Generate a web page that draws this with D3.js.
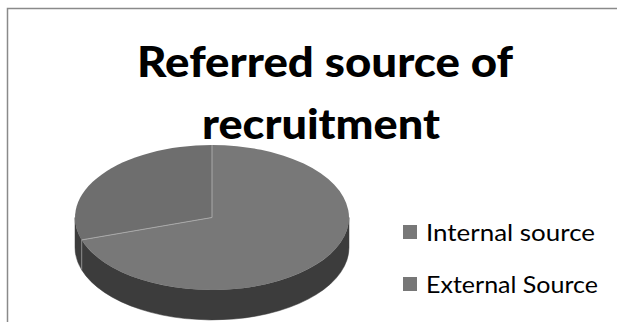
<!DOCTYPE html>
<html>
<head>
<meta charset="utf-8">
<script src="https://cdn.jsdelivr.net/npm/d3@7"></script>
<style>
html,body{margin:0;padding:0;background:#fff;}
svg{display:block;}
</style>
</head>
<body>
<svg id="chart" width="617" height="322"></svg>
<script>
const titleLines = ["Referred source of", "recruitment"];
const categories = ["Internal source", "External Source"];
const values = [70, 30];
const topColors = ["#787878", "#6e6e6e"];
const legendColors = ["#787878", "#777777"];

const svg = d3.select("#chart");
const W = 617, H = 322;

// border
svg.append("path")
  .attr("d", `M7.5,${H} V8.5 H${W}`)
  .attr("fill", "none").attr("stroke", "#8a8a8a").attr("stroke-width", 1.5);

// pie geometry
const cx = 212, cy = 217.5, rx = 137, ry = 72.5, depth = 30;
const pie = d3.pie().sort(null).value(d => d)(values);
const pt = (a, dy = 0) => [cx + rx * Math.sin(a), cy - ry * Math.cos(a) + dy];

const g = svg.append("g");

// side faces (front half only)
pie.forEach((s, i) => {
  const a0 = Math.max(s.startAngle, Math.PI / 2);
  const a1 = Math.min(s.endAngle, 3 * Math.PI / 2);
  if (a1 <= a0) return;
  const p0 = pt(a0), p1 = pt(a1), q1 = pt(a1, depth), q0 = pt(a0, depth);
  const large = (a1 - a0) > Math.PI ? 1 : 0;
  const d = `M${p0} A${rx},${ry} 0 ${large} 1 ${p1} L${q1} A${rx},${ry} 0 ${large} 0 ${q0} Z`;
  g.append("path").attr("d", d).attr("fill", "#3c3c3c").attr("stroke", "#3c3c3c").attr("stroke-width", 0.5);
});

// vertical edges of slice boundaries on the front side
pie.forEach(s => {
  const a = s.endAngle;
  if (a > Math.PI / 2 && a < 3 * Math.PI / 2) {
    const p = pt(a), q = pt(a, depth);
    g.append("line").attr("x1", p[0]).attr("y1", p[1]).attr("x2", q[0]).attr("y2", q[1])
      .attr("stroke", "#8c8c8c").attr("stroke-width", 1);
  }
});

// top faces
pie.forEach((s, i) => {
  const p0 = pt(s.startAngle), p1 = pt(s.endAngle);
  const large = (s.endAngle - s.startAngle) > Math.PI ? 1 : 0;
  g.append("path")
    .attr("d", `M${cx},${cy} L${p0} A${rx},${ry} 0 ${large} 1 ${p1} Z`)
    .attr("fill", topColors[i]);
});
pie.forEach(s => {
  const p = pt(s.startAngle);
  g.append("line").attr("x1", cx).attr("y1", cy).attr("x2", p[0]).attr("y2", p[1])
    .attr("stroke", "#a8a8a8").attr("stroke-width", 1);
});

// title
const titleW = [376, 238], titleX = [325, 321], titleY = [77, 139];
titleLines.forEach((l, i) => {
  svg.append("text").attr("x", titleX[i]).attr("y", titleY[i]).attr("text-anchor", "middle")
    .attr("font-family", "Lato, 'Open Sans', sans-serif").attr("font-weight", 900)
    .attr("font-size", 42).attr("fill", "#000")
    .attr("textLength", titleW[i]).attr("lengthAdjust", "spacingAndGlyphs")
    .text(l);
});

// legend
const leg = svg.append("g");
const legY = d3.scalePoint().domain(categories).range([232, 284]);
const legW = [169, 172];
categories.forEach((c, i) => {
  const y = legY(c);
  leg.append("rect").attr("x", 403).attr("y", y - 7).attr("width", 14).attr("height", 14)
    .attr("fill", legendColors[i]);
  leg.append("text").attr("x", 426).attr("y", y + 9)
    .attr("font-family", "Lato, 'Open Sans', sans-serif").attr("font-size", 23.5)
    .attr("fill", "#000")
    .attr("textLength", legW[i]).attr("lengthAdjust", "spacingAndGlyphs")
    .text(c);
});
</script>
</body>
</html>
